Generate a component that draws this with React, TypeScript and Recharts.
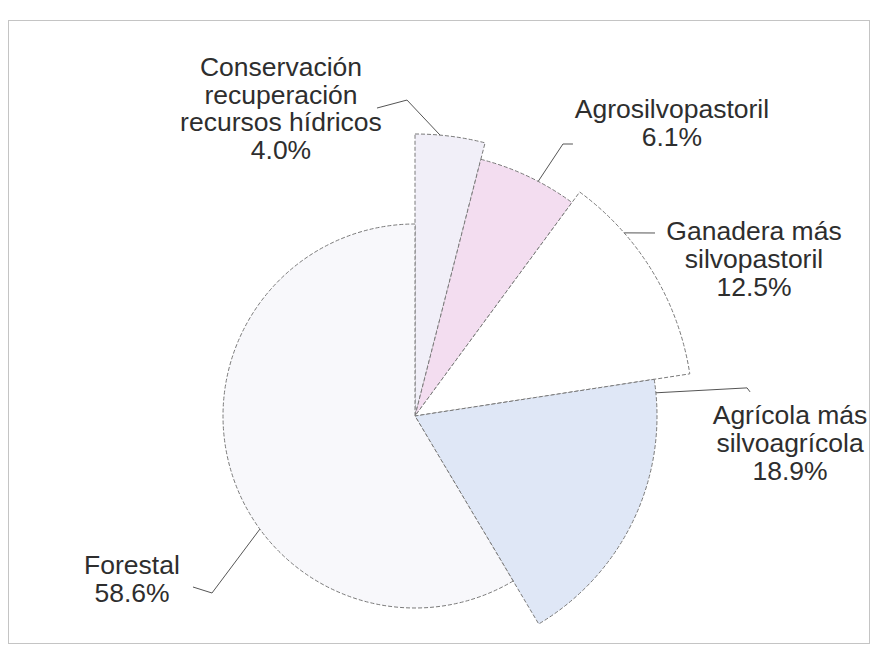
import React from 'react';
import { PieChart, Pie, Cell } from 'recharts';

const categories = [
  'Conservación recuperación recursos hídricos',
  'Agrosilvopastoril',
  'Ganadera más silvopastoril',
  'Agrícola más silvoagrícola',
  'Forestal',
];
const values = [4.0, 6.1, 12.5, 18.9, 58.6];
const labelLines = [
  ['Conservación', 'recuperación', 'recursos hídricos'],
  ['Agrosilvopastoril'],
  ['Ganadera más', 'silvopastoril'],
  ['Agrícola más', 'silvoagrícola'],
  ['Forestal'],
];

// styling / layout (not data)
const fills = ['#f1eff8', '#f3ddf0', '#ffffff', '#dfe7f6', '#f8f8fb'];
const radii = [282, 265, 278, 242, 192];
// label placement: angle from 12 o'clock (clockwise, deg) and distance from centre
const labelPlace = [
  { a: -23.55, d: 335.4 },
  { a: 41.25, d: 389.7 },
  { a: 65.15, d: 373.6 },
  { a: 94.1, d: 376 },
  { a: 240.06, d: 326.6 },
];
// leader: anchor angle on arc, elbow & end relative to label centre
const leaders = [
  { anchor: 5.1, elbow: [126, -8.5], end: [96, -0.5] },
  { anchor: 27.7, elbow: [-109, 21], end: [-99, 21] },
  { anchor: 48.8, elbow: [-99, -26], end: [-99, -26] },
  { anchor: 84.5, elbow: [-43, -55], end: [-40, -51] },
  { anchor: 233.9, elbow: [80, 14], end: [61, 8] },
];

const data = categories.map((name, i) => ({ name, value: values[i] }));

const CX = 415;
const CY = 416;
const FONT = 26.5;
const LH = 27.7;

const pt = (cx: number, cy: number, aDeg: number, r: number) => {
  const a = (aDeg * Math.PI) / 180;
  return [cx + r * Math.sin(a), cy - r * Math.cos(a)];
};

const makeLabel = (i: number) => (props: any) => {
  if (props.index !== i) return null;
  const cx = props.cx;
  const cy = props.cy;
  const r = props.outerRadius;
  const lp = labelPlace[i];
  const [lx, ly] = pt(cx, cy, lp.a, lp.d);
  const lines = [...labelLines[i], `${values[i].toFixed(1)}%`];
  const n = lines.length;
  const top = ly - ((n - 1) * LH) / 2;
  const ld = leaders[i];
  const [ax, ay] = pt(cx, cy, ld.anchor, r);
  const ex = lx + ld.elbow[0];
  const ey = ly + ld.elbow[1];
  const fx = lx + ld.end[0];
  const fy = ly + ld.end[1];
  return (
    <g key={`lbl-${i}`}>
      <polyline
        points={`${ax},${ay} ${ex},${ey} ${fx},${fy}`}
        fill="none"
        stroke="#555"
        strokeWidth={1}
      />
      <text
        x={lx}
        y={top}
        textAnchor="middle"
        dominantBaseline="central"
        fontFamily="'Liberation Sans', Arial, sans-serif"
        fontSize={FONT}
        fill="#2e2e2e"
      >
        {lines.map((t, k) => (
          <tspan key={k} x={lx} y={top + k * LH} dominantBaseline="central">
            {t}
          </tspan>
        ))}
      </text>
    </g>
  );
};

export default function App() {
  return (
    <div style={{ position: 'absolute', left: 0, top: 0, width: 875, height: 650, background: '#fff' }}>
      <div
        style={{
          position: 'absolute',
          left: 8,
          top: 20,
          width: 862,
          height: 624,
          border: '1px solid #c4c4c4',
          boxSizing: 'border-box',
        }}
      />
      <div style={{ position: 'absolute', left: 0, top: 0 }}>
        <PieChart width={875} height={650} margin={{ top: 0, right: 0, bottom: 0, left: 0 }}>
          {radii.map((R, i) => (
            <Pie
              key={i}
              data={data}
              dataKey="value"
              nameKey="name"
              cx={CX}
              cy={CY}
              innerRadius={0}
              outerRadius={R}
              startAngle={90}
              endAngle={-270}
              isAnimationActive={false}
              label={makeLabel(i)}
              labelLine={false}
            >
              {data.map((_, j) => (
                <Cell
                  key={j}
                  fill={j === i ? fills[i] : 'none'}
                  stroke={j === i ? '#7a7a7a' : 'none'}
                  strokeWidth={1}
                  strokeDasharray="4 2"
                />
              ))}
            </Pie>
          ))}
        </PieChart>
      </div>
    </div>
  );
}
